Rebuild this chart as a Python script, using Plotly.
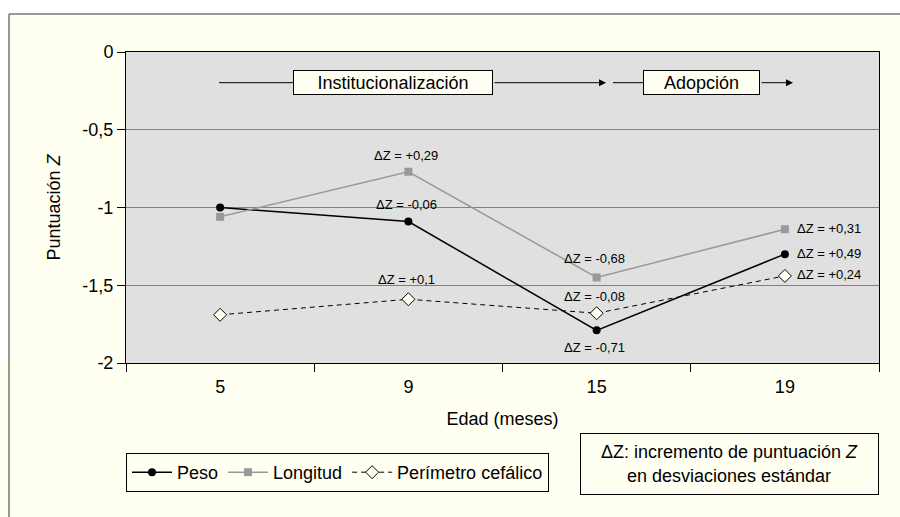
import plotly.graph_objects as go

# ---- data ----
edad = ["5", "9", "15", "19"]
peso = [-1.00, -1.09, -1.79, -1.30]
longitud = [-1.06, -0.77, -1.45, -1.14]
perimetro = [-1.69, -1.59, -1.68, -1.44]

y_ticks = [0, -0.5, -1, -1.5, -2]
y_ticktext = ["0", "-0,5", "-1", "-1,5", "-2"]

delta_peso = ["", "ΔZ = -0,06", "ΔZ = -0,71", "ΔZ = +0,49"]
delta_long = ["", "ΔZ = +0,29", "ΔZ = -0,68", "ΔZ = +0,31"]
delta_peri = ["", "ΔZ = +0,1", "ΔZ = -0,08", "ΔZ = +0,24"]

CREAM = "#fffff2"
PLOTBG = "#e0e0e0"
FONT = "Liberation Sans, Arial, sans-serif"
FS = 18

W, H = 900, 517
L, R, T, B = 126, 21, 52, 154
PW, PH = W - L - R, H - T - B


def px(xp):
    return (xp - L) / PW


def py(yp):
    return (H - B - yp) / PH


fig = go.Figure()
fig.add_trace(go.Scatter(
    x=edad, y=peso, name="Peso", mode="lines+markers",
    line=dict(color="black", width=1.5),
    marker=dict(symbol="circle", size=8, color="black"),
))
fig.add_trace(go.Scatter(
    x=edad, y=longitud, name="Longitud", mode="lines+markers",
    line=dict(color="#999999", width=1.5),
    marker=dict(symbol="square", size=8, color="#999999"),
))
fig.add_trace(go.Scatter(
    x=edad, y=perimetro, name="Perímetro cefálico", mode="lines+markers",
    line=dict(color="black", width=1, dash="5px,4px"),
    marker=dict(symbol="diamond", size=10, color=CREAM,
                line=dict(color="black", width=1)),
))

annotations = []
small = dict(family=FONT, size=13, color="black")

shifts = {
    ("peso", 1): 17, ("peso", 2): -17,
    ("long", 1): 16, ("long", 2): 19,
    ("peri", 1): 20, ("peri", 2): 17,
}
for key, vals, texts in (("peso", peso, delta_peso),
                         ("long", longitud, delta_long),
                         ("peri", perimetro, delta_peri)):
    for i in (1, 2):
        annotations.append(dict(
            x=i, y=vals[i], xref="x", yref="y", text=texts[i],
            xanchor="center", yanchor="middle",
            showarrow=False, font=small, yshift=shifts[(key, i)], xshift=-2,
        ))
    annotations.append(dict(
        x=3, y=vals[3], xref="x", yref="y", text=texts[3],
        showarrow=False, font=small, xanchor="left", yanchor="middle",
        xshift=10, yshift=1,
    ))

big = dict(family=FONT, size=FS, color="black")
arrow_y = 82.7
annotations.append(dict(
    x=px(393), y=py(arrow_y), xref="paper", yref="paper",
    xanchor="center", yanchor="middle",
    text="Institucionalización", showarrow=False, font=big,
    bgcolor=CREAM, bordercolor="black", borderwidth=1, borderpad=0,
    width=198, height=23,
))
annotations.append(dict(
    x=px(701.5), y=py(arrow_y), xref="paper", yref="paper",
    xanchor="center", yanchor="middle",
    text="Adopción", showarrow=False, font=big,
    bgcolor=CREAM, bordercolor="black", borderwidth=1, borderpad=0,
    width=115, height=23,
))
for x0, x1 in ((493, 606), (760, 793)):
    annotations.append(dict(
        x=px(x1), y=py(arrow_y), xref="paper", yref="paper",
        ax=-(x1 - x0), ay=0, text="", showarrow=True,
        arrowhead=2, arrowsize=1.4, arrowwidth=1, arrowcolor="black",
    ))
annotations.append(dict(
    x=px(729.5), y=py(464), xref="paper", yref="paper",
    xanchor="center", yanchor="middle",
    text="ΔZ: incremento de puntuación <i>Z</i><br>en desviaciones estándar",
    showarrow=False, font=big, align="center",
    bgcolor=CREAM, bordercolor="black", borderwidth=1, borderpad=2,
    width=293, height=56,
))

shapes = [
    dict(type="rect", xref="paper", yref="paper", x0=px(0), x1=px(900),
         y0=py(14), y1=py(0), fillcolor="white", line_width=0, layer="below"),
    dict(type="rect", xref="paper", yref="paper", x0=px(0), x1=px(9),
         y0=py(362), y1=py(0), fillcolor="white", line_width=0, layer="below"),
    dict(type="line", xref="paper", yref="paper", x0=px(9), x1=px(900),
         y0=py(14), y1=py(14), line=dict(color="#777777", width=1.5)),
    dict(type="line", xref="paper", yref="paper", x0=px(9), x1=px(9),
         y0=py(14), y1=py(517), line=dict(color="#777777", width=1.5)),
    dict(type="line", xref="paper", yref="paper", x0=px(219), x1=px(293),
         y0=py(arrow_y), y1=py(arrow_y), line=dict(color="black", width=1)),
    dict(type="line", xref="paper", yref="paper", x0=px(613), x1=px(643),
         y0=py(arrow_y), y1=py(arrow_y), line=dict(color="black", width=1)),
]

fig.update_layout(
    width=W, height=H,
    margin=dict(l=L, r=R, t=T, b=B, pad=0),
    paper_bgcolor=CREAM, plot_bgcolor=PLOTBG,
    font=dict(family=FONT, size=FS, color="black"),
    showlegend=True,
    legend=dict(
        orientation="h", x=0, y=py(453), xanchor="left", yanchor="top",
        bgcolor=CREAM, bordercolor="black", borderwidth=1,
        font=dict(family=FONT, size=FS, color="black"),
        itemwidth=40,
    ),
    xaxis=dict(
        type="category", categoryorder="array", categoryarray=edad,
        range=[-0.5, 3.5], showgrid=False, zeroline=False,
        showline=True, linecolor="black", linewidth=1, mirror=True,
        ticks="outside", tickson="boundaries", ticklen=8, tickcolor="black",
        tickfont=dict(family=FONT, size=FS), ticklabelstandoff=7,
        title=dict(text="Edad (meses)", font=dict(family=FONT, size=FS), standoff=16),
    ),
    yaxis=dict(
        range=[-2, 0], tickvals=y_ticks, ticktext=y_ticktext,
        showgrid=True, gridcolor="#808080", gridwidth=1, zeroline=False,
        showline=True, linecolor="black", linewidth=1, mirror=True,
        ticks="outside", ticklen=8, tickcolor="black",
        tickfont=dict(family=FONT, size=FS),
        title=dict(text="Puntuación <i>Z</i>", font=dict(family=FONT, size=FS), standoff=17),
    ),
    annotations=annotations,
    shapes=shapes,
)

fig.write_html("out.html", config={"displayModeBar": False},
               post_script="document.body.style.margin='0';")
